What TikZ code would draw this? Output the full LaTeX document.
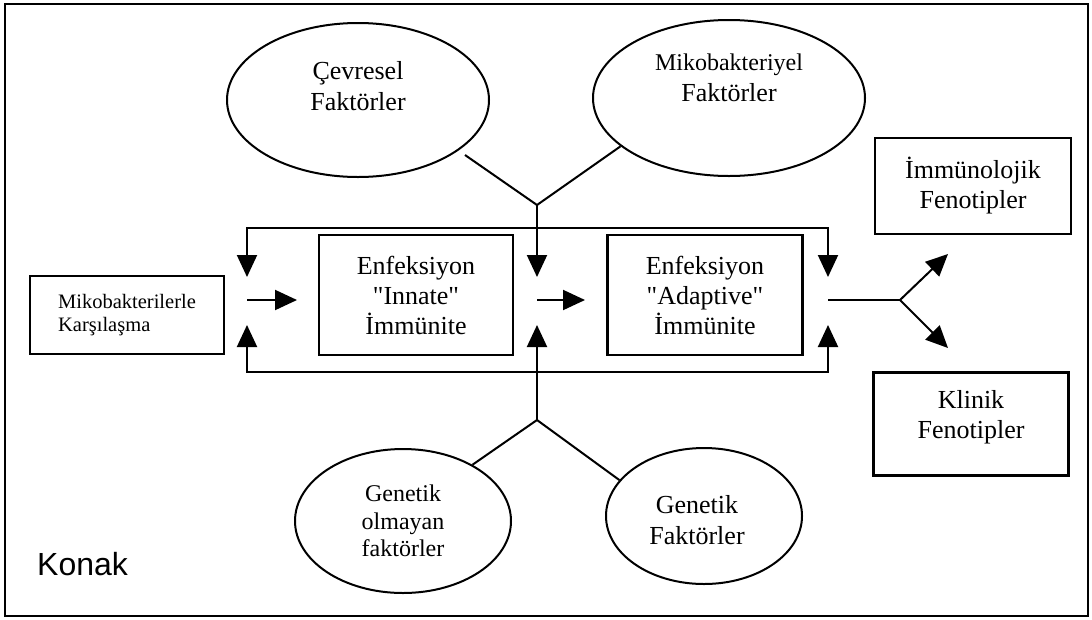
\documentclass[tikz,border=0pt]{standalone}
\usepackage{fontspec}
\setmainfont{Liberation Serif}
\newfontfamily\konakfont{Liberation Sans}
\usetikzlibrary{arrows.meta, calc, positioning, shapes.geometric}

\tikzset{
    kutu/.style={draw, line width=2.4pt, rectangle, align=center, font=\fontsize{26}{30}\selectfont},
    faktor/.style={draw, line width=2pt, ellipse, inner sep=0pt},
    yazi/.style={align=center, font=\fontsize{26}{31}\selectfont},
    cizgi/.style={line width=2pt},
    ok/.style={line width=2pt, -{Triangle[length=22pt, width=20pt]}},
    okcift/.style={line width=2pt, {Triangle[length=22pt, width=20pt]}-{Triangle[length=22pt, width=20pt]}},
}

\begin{document}
\begin{tikzpicture}[x=1pt, y=-1pt]
    \useasboundingbox (0,0) rectangle (1092,619);

    % çerçeve
    \draw[line width=2pt] (5,4) rectangle (1088,616);
    \node[anchor=base west, inner sep=0pt, font=\konakfont\fontsize{32}{36}\selectfont] (konak) at (37,575) {Konak};

    % kutular
    \node[kutu, minimum width=194pt, minimum height=78pt, align=left, font=\fontsize{20.5}{23}\selectfont] (karsi) at (127,315) {Mikobakterilerle\\Karşılaşma};
    \node[kutu, minimum width=194pt, minimum height=120pt] (innate) at (416,295) {Enfeksiyon\\\textquotedbl Innate\textquotedbl\\İmmünite};
    \node[kutu, minimum width=195pt, minimum height=120pt] (adaptive) at (705,295) {Enfeksiyon\\\textquotedbl Adaptive\textquotedbl\\İmmünite};
    \node[kutu, minimum width=196pt, minimum height=96pt] (immuno) at (973,186) {İmmünolojik\\Fenotipler};
    \node[kutu, minimum width=195pt, minimum height=103pt] (klinik) at (971,424) {};
    \node[yazi, font=\fontsize{26}{30}\selectfont] (klinikyazi) at (971,417) {Klinik\\Fenotipler};

    % faktörler
    \node[faktor, minimum width=262pt, minimum height=154pt] (cevre) at (358,100) {};
    \node[yazi] (cevreyazi) at (358,86) {Çevresel\\Faktörler};
    \node[faktor, minimum width=272pt, minimum height=156pt] (mikofak) at (729,98) {};
    \node[yazi] (mikoyazi) at (729,78) {{\fontsize{24}{30}\selectfont Mikobakteriyel}\\Faktörler};
    \node[faktor, minimum width=216pt, minimum height=144pt, align=center, font=\fontsize{24}{27.5}\selectfont] (gendis) at (403,521) {Genetik\\olmayan\\faktörler};
    \node[faktor, minimum width=196pt, minimum height=136pt] (genfak) at (704,516) {};
    \node[yazi] (genfakyazi) at (697,520) {Genetik\\Faktörler};

    % bağlantı noktaları
    \coordinate (jtop) at (537,205);
    \coordinate (cevreuc) at (465,155);
    \coordinate (ortaust) at (537,277);
    \coordinate (jbot) at (537,420);
    \coordinate (ortaalt) at (537,325);
    \coordinate (ustsol) at (247,228);
    \coordinate (ustsag) at (828,228);
    \coordinate (solust) at (247,277);
    \coordinate (sagust) at (828,277);
    \coordinate (altsol) at (247,372);
    \coordinate (altsag) at (828,372);
    \coordinate (solalt) at (247,325);
    \coordinate (sagalt) at (828,325);
    \coordinate (g1) at (247,300);
    \coordinate (g1u) at (297,300);
    \coordinate (g2) at (537,300);
    \coordinate (g2u) at (585,300);
    \coordinate (g3) at (828,300);
    \coordinate (jsag) at (900,300);
    \coordinate (immuok) at (948,254);
    \coordinate (klinikok) at (948,348);

    % üst ve alt girişler
    \draw[cizgi] (cevreuc) -- (jtop) -- (mikofak.204);
    \draw[ok] (jtop) -- (ortaust);
    \draw[cizgi] (gendis.39) -- (jbot) -- (genfak.157);
    \draw[ok] (jbot) -- (ortaalt);

    % geri besleme
    \draw[okcift] (solust) -- (ustsol) -- (ustsag) -- (sagust);
    \draw[okcift] (solalt) -- (altsol) -- (altsag) -- (sagalt);

    % akış
    \draw[ok] (g1) -- (g1u);
    \draw[ok] (g2) -- (g2u);
    \draw[cizgi] (g3) -- (jsag);
    \draw[ok] (jsag) -- (immuok);
    \draw[ok] (jsag) -- (klinikok);
\end{tikzpicture}
\end{document}
